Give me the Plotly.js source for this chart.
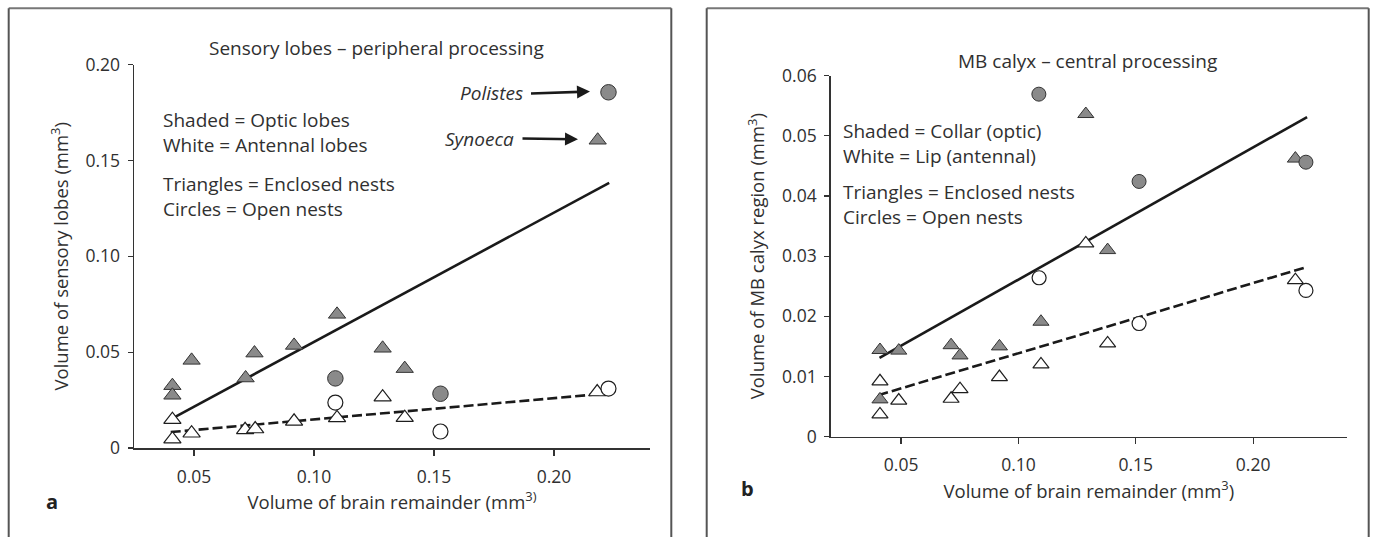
<!DOCTYPE html>
<html>
<head>
<meta charset="utf-8">
<script src="https://cdn.plot.ly/plotly-3.0.1.min.js"></script>
<style>html,body{margin:0;padding:0;background:#fff;}#chart{width:1375px;height:537px;}</style>
</head>
<body>
<div id="chart"></div>
<script>
// ---------- Shared tick labels ----------
const xTickVals = [0.05, 0.10, 0.15, 0.20];
const xTickText = ['0.05', '0.10', '0.15', '0.20'];
const aYTickVals = [0, 0.05, 0.10, 0.15, 0.20];
const aYTickText = ['0', '0.05', '0.10', '0.15', '0.20'];
const bYTickVals = [0, 0.01, 0.02, 0.03, 0.04, 0.05, 0.06];
const bYTickText = ['0', '0.01', '0.02', '0.03', '0.04', '0.05', '0.06'];

// ---------- Panel a: sensory lobes ----------
const aShadedTriX = [0.041, 0.041, 0.049, 0.0715, 0.0752, 0.0917, 0.1096, 0.1286, 0.1378, 0.2182];
const aShadedTriY = [0.0325, 0.0275, 0.0457, 0.0365, 0.0495, 0.0535, 0.0697, 0.0520, 0.0414, 0.1605];
const aShadedCirX = [0.1089, 0.1527, 0.2227];
const aShadedCirY = [0.0363, 0.0283, 0.1855];
const aWhiteTriX = [0.041, 0.041, 0.049, 0.0713, 0.0755, 0.0917, 0.1096, 0.1286, 0.1378, 0.2180];
const aWhiteTriY = [0.0148, 0.0046, 0.0077, 0.0095, 0.0099, 0.0139, 0.0157, 0.0265, 0.0158, 0.0292];
const aWhiteCirX = [0.1089, 0.1527, 0.2227];
const aWhiteCirY = [0.0237, 0.0086, 0.0310];
const aFitOpticX = [0.041, 0.223];
const aFitOpticY = [0.0155, 0.1383];
const aFitAntX = [0.0403, 0.2227];
const aFitAntY = [0.0083, 0.0285];

// ---------- Panel b: MB calyx ----------
const bShadedTriX = [0.041, 0.041, 0.049, 0.0713, 0.0751, 0.0919, 0.1096, 0.1287, 0.1380, 0.2180];
const bShadedTriY = [0.0144, 0.0062, 0.0143, 0.0152, 0.0135, 0.0150, 0.0191, 0.0536, 0.0310, 0.0462];
const bShadedCirX = [0.1087, 0.1514, 0.2225];
const bShadedCirY = [0.0569, 0.0424, 0.0456];
const bWhiteTriX = [0.041, 0.041, 0.049, 0.0713, 0.0751, 0.0919, 0.1096, 0.1287, 0.1380, 0.2180];
const bWhiteTriY = [0.0092, 0.0037, 0.0060, 0.0063, 0.0079, 0.0099, 0.0120, 0.0321, 0.0155, 0.0260];
const bWhiteCirX = [0.1088, 0.1514, 0.2225];
const bWhiteCirY = [0.0264, 0.0188, 0.0243];
const bFitCollarX = [0.0408, 0.2230];
const bFitCollarY = [0.0131, 0.0531];
const bFitLipX = [0.0403, 0.2230];
const bFitLipY = [0.0069, 0.0282];

// ---------- Styling ----------
const FONT = 'Open Sans, Noto Sans, sans-serif';
const TXT = '#303030';
const W = 1375, H = 537;
const px = v => v / W;
const py = v => 1 - v / H;

const shaded = (sym, size) => ({symbol: sym, size: size, color: '#8a8a8a', line: {color: '#333333', width: 1}});
const white = (sym, size) => ({symbol: sym, size: size, color: '#ffffff', line: {color: '#1e1e1e', width: 1.2}});

function pts(x, y, marker, xa, ya, name) {
  return {type: 'scatter', mode: 'markers', x: x, y: y, marker: marker, xaxis: xa, yaxis: ya, name: name, hoverinfo: 'x+y', cliponaxis: false};
}
function fit(x, y, dash, xa, ya, name) {
  return {type: 'scatter', mode: 'lines', x: x, y: y, line: {color: '#1a1a1a', width: 2.6, dash: dash}, xaxis: xa, yaxis: ya, name: name, hoverinfo: 'skip', cliponaxis: false};
}

const data = [
  fit(aFitOpticX, aFitOpticY, 'solid', 'x', 'y', 'Optic lobes fit'),
  fit(aFitAntX, aFitAntY, '10px,4px', 'x', 'y', 'Antennal lobes fit'),
  pts(aWhiteTriX, aWhiteTriY, white('triangle-up', 15), 'x', 'y', 'Antennal lobes, enclosed nests'),
  pts(aWhiteCirX, aWhiteCirY, white('circle', 15), 'x', 'y', 'Antennal lobes, open nests'),
  pts(aShadedTriX, aShadedTriY, shaded('triangle-up', 15), 'x', 'y', 'Optic lobes, enclosed nests'),
  pts(aShadedCirX, aShadedCirY, shaded('circle', 15.5), 'x', 'y', 'Optic lobes, open nests'),

  fit(bFitCollarX, bFitCollarY, 'solid', 'x2', 'y2', 'Collar fit'),
  fit(bFitLipX, bFitLipY, '10px,4px', 'x2', 'y2', 'Lip fit'),
  pts(bWhiteTriX, bWhiteTriY, white('triangle-up', 14), 'x2', 'y2', 'Lip, enclosed nests'),
  pts(bWhiteCirX, bWhiteCirY, white('circle', 14), 'x2', 'y2', 'Lip, open nests'),
  pts(bShadedTriX, bShadedTriY, shaded('triangle-up', 14), 'x2', 'y2', 'Collar, enclosed nests'),
  pts(bShadedCirX, bShadedCirY, shaded('circle', 14), 'x2', 'y2', 'Collar, open nests')
];

function xAxis(domain, range, anchor, title) {
  return {
    domain: domain, range: range, anchor: anchor,
    tickmode: 'array', tickvals: xTickVals, ticktext: xTickText,
    showgrid: false, zeroline: false, showline: true, linecolor: '#333', linewidth: 1.5,
    ticks: 'outside', ticklen: 6, tickwidth: 1.2, tickcolor: '#333', ticklabelstandoff: 6,
    tickfont: {family: FONT, size: 17.5, color: TXT},
    title: {text: title, font: {family: FONT, size: 18.5, color: TXT}, standoff: 3},
    fixedrange: true, automargin: false
  };
}
function yAxis(domain, range, anchor, vals, text, title, standoff) {
  return {
    domain: domain, range: range, anchor: anchor,
    tickmode: 'array', tickvals: vals, ticktext: text,
    showgrid: false, zeroline: false, showline: true, linecolor: '#333', linewidth: 1.5,
    ticks: 'outside', ticklen: 5, tickwidth: 1.2, tickcolor: '#333', ticklabelstandoff: 4,
    tickfont: {family: FONT, size: 17.5, color: TXT},
    title: {text: title, font: {family: FONT, size: 18.5, color: TXT}, standoff: standoff},
    fixedrange: true, automargin: false
  };
}

function note(text, x, y, opts) {
  return Object.assign({text: text, xref: 'paper', yref: 'paper', x: px(x), y: py(y), xanchor: 'left', yanchor: 'middle', showarrow: false,
    align: 'left', font: {family: FONT, size: 19, color: TXT}}, opts || {});
}
// label with an arrow: the text sits to the left of the arrow tail, the head points at the marker
function pointer(text, headX, headY, tailX, tailY, pad) {
  return {text: text, xref: 'paper', yref: 'paper', x: px(headX), y: py(headY), ax: tailX - headX, ay: tailY - headY,
    xanchor: 'right', yanchor: 'middle', borderpad: pad,
    font: {family: FONT, size: 19, color: TXT},
    showarrow: true, arrowhead: 2, arrowsize: 1, arrowwidth: 2.6, arrowcolor: '#1a1a1a', standoff: 0};
}

const annotations = [
  note('Sensory lobes \u2013 peripheral processing', 376, 48, {xanchor: 'center'}),
  note('Shaded = Optic lobes<br>White = Antennal lobes', 161, 132.8),
  note('Triangles = Enclosed nests<br>Circles = Open nests', 161, 196.3),
  pointer('<i>Polistes</i>', 590, 91.5, 531, 93.5, 7),
  pointer('<i>Synoeca</i>', 578, 139.3, 522.5, 138.5, 8),
  note('<b>a</b>', 52, 501, {xanchor: 'center', font: {family: FONT, size: 20, color: '#222'}}),

  note('MB calyx \u2013 central processing', 1087, 61, {xanchor: 'center'}),
  note('Shaded = Collar (optic)<br>White = Lip (antennal)', 841, 143.3),
  note('Triangles = Enclosed nests<br>Circles = Open nests', 841, 204.5),
  note('<b>b</b>', 747, 488, {xanchor: 'center', font: {family: FONT, size: 20, color: '#222'}})
];

function frame(x0, x1) {
  const top = py(8.3);
  return [
    {type: 'line', xref: 'paper', yref: 'paper', x0: px(x0), x1: px(x1), y0: top, y1: top, line: {color: '#777', width: 2}},
    {type: 'line', xref: 'paper', yref: 'paper', x0: px(x0), x1: px(x0), y0: top, y1: -0.02, line: {color: '#555', width: 2}},
    {type: 'line', xref: 'paper', yref: 'paper', x0: px(x1), x1: px(x1), y0: top, y1: -0.02, line: {color: '#555', width: 2}}
  ];
}

const layout = {
  width: W, height: H,
  margin: {l: 0, r: 0, t: 0, b: 0},
  paper_bgcolor: '#ffffff', plot_bgcolor: 'rgba(0,0,0,0)',
  showlegend: false,
  font: {family: FONT, size: 17, color: TXT},
  xaxis: xAxis([px(134), px(650)], [0.025, 0.24], 'y', 'Volume of brain remainder (mm<sup>3)</sup>'),
  yaxis: yAxis([py(448), py(64.5)], [0, 0.20], 'x', aYTickVals, aYTickText, 'Volume of sensory lobes (mm<sup>3</sup>)', 12),
  xaxis2: xAxis([px(830.7), px(1347)], [0.02, 0.24], 'y2', 'Volume of brain remainder (mm<sup>3</sup>)'),
  yaxis2: yAxis([py(436.7), py(75.5)], [0, 0.06], 'x2', bYTickVals, bYTickText, 'Volume of MB calyx region (mm<sup>3</sup>)', 12),
  annotations: annotations,
  shapes: frame(8.7, 671.3).concat(frame(706.7, 1368.7))
};

Plotly.newPlot('chart', data, layout, {displayModeBar: false, staticPlot: true});
</script>
</body>
</html>
